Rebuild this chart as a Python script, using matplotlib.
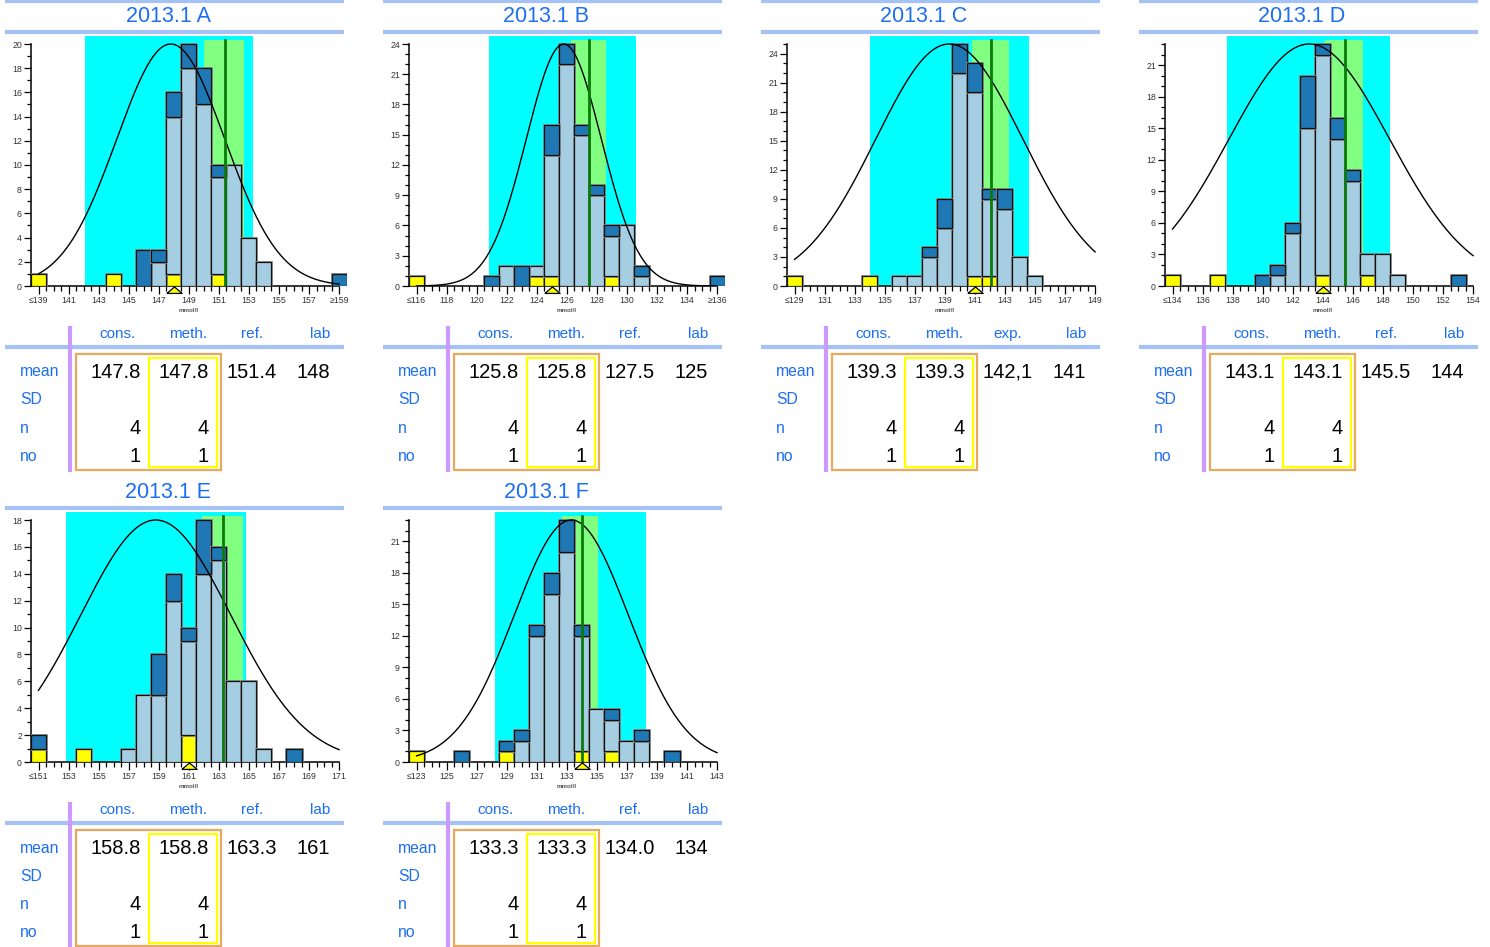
import numpy as np
import matplotlib
matplotlib.use('Agg')
import matplotlib.pyplot as plt
import matplotlib.patheffects as pe
from matplotlib.lines import Line2D
from matplotlib.patches import Rectangle

plt.rcParams['font.family'] = ['Liberation Sans', 'DejaVu Sans']

# ---------- data (counts per 1 mmol/l bin, first bin = first_bin) ----------
titles = ['2013.1 A', '2013.1 B', '2013.1 C', '2013.1 D', '2013.1 E', '2013.1 F']
first_bin = [139, 116, 129, 134, 151, 123]
last_open = [True, True, False, False, False, False]
ystep = [2, 3, 3, 3, 2, 3]

a_yel = [1, 0, 0, 0, 0, 1, 0, 0, 0, 1, 0, 0, 1, 0, 0, 0, 0, 0, 0, 0, 0]
a_lig = [0, 0, 0, 0, 0, 0, 0, 0, 2, 13, 18, 15, 8, 10, 4, 2, 0, 0, 0, 0, 0]
a_drk = [0, 0, 0, 0, 0, 0, 0, 3, 1, 2, 2, 3, 1, 0, 0, 0, 0, 0, 0, 0, 1]

b_yel = [1, 0, 0, 0, 0, 0, 0, 0, 1, 1, 0, 0, 0, 1, 0, 0, 0, 0, 0, 0, 0]
b_lig = [0, 0, 0, 0, 0, 0, 2, 0, 1, 12, 22, 15, 9, 4, 6, 1, 0, 0, 0, 0, 0]
b_drk = [0, 0, 0, 0, 0, 1, 0, 2, 0, 3, 2, 1, 1, 1, 0, 1, 0, 0, 0, 0, 1]

c_yel = [1, 0, 0, 0, 0, 1, 0, 0, 0, 0, 0, 0, 1, 1, 0, 0, 0, 0, 0, 0, 0]
c_lig = [0, 0, 0, 0, 0, 0, 0, 1, 1, 3, 6, 22, 19, 8, 8, 3, 1, 0, 0, 0, 0]
c_drk = [0, 0, 0, 0, 0, 0, 0, 0, 0, 1, 3, 3, 3, 1, 2, 0, 0, 0, 0, 0, 0]

d_yel = [1, 0, 0, 1, 0, 0, 0, 0, 0, 0, 1, 0, 0, 1, 0, 0, 0, 0, 0, 0, 0]
d_lig = [0, 0, 0, 0, 0, 0, 0, 1, 5, 15, 21, 14, 10, 2, 3, 1, 0, 0, 0, 0, 0]
d_drk = [0, 0, 0, 0, 0, 0, 1, 1, 1, 5, 1, 2, 1, 0, 0, 0, 0, 0, 0, 1, 0]

e_yel = [1, 0, 0, 1, 0, 0, 0, 0, 0, 0, 2, 0, 0, 0, 0, 0, 0, 0, 0, 0, 0]
e_lig = [0, 0, 0, 0, 0, 0, 1, 5, 5, 12, 7, 14, 15, 6, 6, 1, 0, 0, 0, 0, 0]
e_drk = [1, 0, 0, 0, 0, 0, 0, 0, 3, 2, 1, 4, 1, 0, 0, 0, 0, 1, 0, 0, 0]

f_yel = [1, 0, 0, 0, 0, 0, 1, 0, 0, 0, 0, 1, 0, 1, 0, 0, 0, 0, 0, 0, 0]
f_lig = [0, 0, 0, 0, 0, 0, 0, 2, 12, 16, 20, 11, 5, 3, 2, 2, 0, 0, 0, 0, 0]
f_drk = [0, 0, 0, 1, 0, 0, 1, 1, 1, 2, 3, 1, 0, 1, 0, 1, 0, 1, 0, 0, 0]

cons_lo = [142.1, 120.8, 134.0, 137.6, 152.8, 128.2]
cons_hi = [153.3, 130.6, 144.6, 148.5, 164.8, 138.3]
ref_lo = [150.0, 126.3, 140.8, 144.15, 161.9, 132.7]
ref_hi = [152.7, 128.6, 143.3, 146.7, 164.6, 135.1]
ref_value = [151.4, 127.5, 142.1, 145.5, 163.3, 134.0]
lab_value = [148, 125, 141, 144, 161, 134]
curve_mean = [147.8, 125.8, 139.3, 143.1, 158.8, 133.3]
curve_sd = [3.6, 2.5, 4.9, 5.35, 5.0, 3.8]

# table
col_heads = ['cons.', 'meth.', 'ref.', 'lab']
ref_head = ['ref.', 'ref.', 'exp.', 'ref.', 'ref.', 'ref.']
row_heads = ['mean', 'SD', 'n', 'no']
cons_mean = ['147.8', '125.8', '139.3', '143.1', '158.8', '133.3']
meth_mean = ['147.8', '125.8', '139.3', '143.1', '158.8', '133.3']
ref_mean = ['151.4', '127.5', '142,1', '145.5', '163.3', '134.0']
lab_mean = ['148', '125', '141', '144', '161', '134']
n_cons = ['4', '4', '4', '4', '4', '4']
n_meth = ['4', '4', '4', '4', '4', '4']
no_cons = ['1', '1', '1', '1', '1', '1']
no_meth = ['1', '1', '1', '1', '1', '1']

yel_all = [a_yel, b_yel, c_yel, d_yel, e_yel, f_yel]
lig_all = [a_lig, b_lig, c_lig, d_lig, e_lig, f_lig]
drk_all = [a_drk, b_drk, c_drk, d_drk, e_drk, f_drk]

# ---------- layout in pixels ----------
W, H = 1490, 947
fig = plt.figure(figsize=(W / 100, H / 100), dpi=100)

BLUE = '#1c6ef2'
LINE = '#a4c2f4'


def fx(px):
    return px / W


def fy(py):
    return 1 - py / H


def hline(x0, x1, y, color, lw):
    fig.add_artist(Line2D([fx(x0), fx(x1)], [fy(y), fy(y)], color=color, lw=lw,
                          transform=fig.transFigure, solid_capstyle='butt'))


def frame(x0, y0, x1, y1, color, lw):
    fig.add_artist(Rectangle((fx(x0), fy(y1)), fx(x1) - fx(x0), fy(y0) - fy(y1),
                             fill=False, edgecolor=color, lw=lw, transform=fig.transFigure))


bar_fx = [pe.Stroke(linewidth=2.0, foreground='#8a8a8a'), pe.Normal()]
tri = [(-1.3, -0.5), (1.3, -0.5), (0, 0.6), (-1.3, -0.5)]  # flat lab marker

for i in range(6):
    row, col = divmod(i, 4)
    cx = col * 378
    oy = row * 476
    lo = first_bin[i]
    x = np.arange(lo, lo + 21)
    yel = np.array(yel_all[i])
    lig = np.array(lig_all[i])
    drk = np.array(drk_all[i])
    tot = yel + lig + drk
    ymax = tot.max()
    ytop = ymax * 250 / 242

    ax = fig.add_axes([fx(cx + 31), fy(oy + 286), 315.6 / W, 250 / H])
    ax.set_xlim(lo - 0.5, lo + 20.5)
    ax.set_ylim(0, ytop)
    ax.patch.set_alpha(0)

    ax.axvspan(cons_lo[i], cons_hi[i], color='#00ffff', lw=0, zorder=0)
    ax.fill_between([ref_lo[i], ref_hi[i]], 0, ymax * 246 / 242, color='#80ff80', lw=0, zorder=1)

    for vals, bottom, colr in [(yel, 0 * yel, '#ffff00'), (lig, yel, '#a6cee3'), (drk, yel + lig, '#1f77b4')]:
        m = vals > 0
        bars = ax.bar(x[m], vals[m], bottom=bottom[m], width=1, color=colr,
                      edgecolor='#111111', lw=0.9, zorder=3)
        for b in bars:
            b.set_path_effects(bar_fx)

    xs = np.linspace(lo, lo + 20, 400)
    ys = ymax * np.exp(-0.5 * ((xs - curve_mean[i]) / curve_sd[i]) ** 2)
    ax.plot(xs, ys, color='black', lw=1.0, zorder=5)

    ax.plot([ref_value[i], ref_value[i]], [0, ymax * 246 / 242], color='#0b7a0b', lw=2.0, zorder=6)
    ax.plot(lab_value[i], -ytop * 4.0 / 250, marker=tri, ms=11, mfc='#ffff00', mec='black',
            mew=0.9, clip_on=False, zorder=10)

    for s in ['top', 'right']:
        ax.spines[s].set_visible(False)
    ax.spines['left'].set_bounds(0, ymax)
    ax.spines['bottom'].set_bounds(lo - 0.5, lo + 20)
    ax.spines['left'].set_linewidth(1.1)
    ax.spines['bottom'].set_linewidth(1.1)

    major = np.arange(lo, lo + 21, 2)
    labels = [str(v) for v in major]
    labels[0] = '\u2264' + labels[0]
    if last_open[i]:
        labels[-1] = '\u2265' + labels[-1]
    ax.set_xticks(major)
    ax.set_xticklabels(labels)
    ax.set_xticks(np.arange(lo, lo + 20.5, 0.5), minor=True)
    ax.set_yticks(np.arange(0, ymax + 0.1, ystep[i]))
    ax.set_yticks(np.arange(0, ymax + 0.1, 1), minor=True)
    ax.tick_params(axis='x', which='major', length=6, width=0.9, labelsize=6.3, pad=1.5,
                   labelcolor='#333333')
    ax.tick_params(axis='x', which='minor', length=3.5, width=0.9)
    ax.tick_params(axis='y', which='major', length=5, width=0.9, labelsize=6.3, pad=1.5,
                   labelcolor='#333333')
    ax.tick_params(axis='y', which='minor', length=3, width=0.9)
    ax.text(10.5 / 21, -24 / 250, 'mmol/l', transform=ax.transAxes, fontsize=4.5,
            color='#555555', ha='center', va='center', fontweight='bold')

    # title and rules
    if row == 0:
        hline(cx + 5, cx + 344, 1.5, LINE, 3)
    fig.text(fx(cx + 168), fy(oy + 17), titles[i], fontsize=15.5, color=BLUE, ha='center', va='center')
    hline(cx + 5, cx + 344, oy + 32, LINE, 3)

    # table
    heads = [col_heads[0], col_heads[1], ref_head[i], col_heads[3]]
    for hx, ht in zip([117, 188, 252, 320], heads):
        fig.text(fx(cx + hx), fy(oy + 334), ht, fontsize=11, color=BLUE, ha='center', va='center')
    hline(cx + 5, cx + 344, oy + 347, LINE, 3)
    fig.add_artist(Line2D([fx(cx + 70), fx(cx + 70)], [fy(oy + 326), fy(oy + 472)], color='#cc99ff',
                          lw=3, transform=fig.transFigure, solid_capstyle='butt'))
    for ry, rt in zip([372, 400, 428, 456], row_heads):
        fig.text(fx(cx + 20), fy(oy + ry), rt, fontsize=11.3, color=BLUE, ha='left', va='center')
    cells = [(141, 372, cons_mean[i]), (209, 372, meth_mean[i]), (277, 372, ref_mean[i]),
             (330, 372, lab_mean[i]), (141, 428, n_cons[i]), (209, 428, n_meth[i]),
             (141, 456, no_cons[i]), (209, 456, no_meth[i])]
    for vx, vy, vt in cells:
        fig.text(fx(cx + vx), fy(oy + vy), vt, fontsize=14.5, color='black', ha='right', va='center')
    frame(cx + 75.7, oy + 354, cx + 220.7, oy + 470.3, '#e8a95c', 1.6)
    frame(cx + 149, oy + 358, cx + 216.7, oy + 466.7, '#ffff00', 1.6)

fig.savefig('out.png', dpi=100)
